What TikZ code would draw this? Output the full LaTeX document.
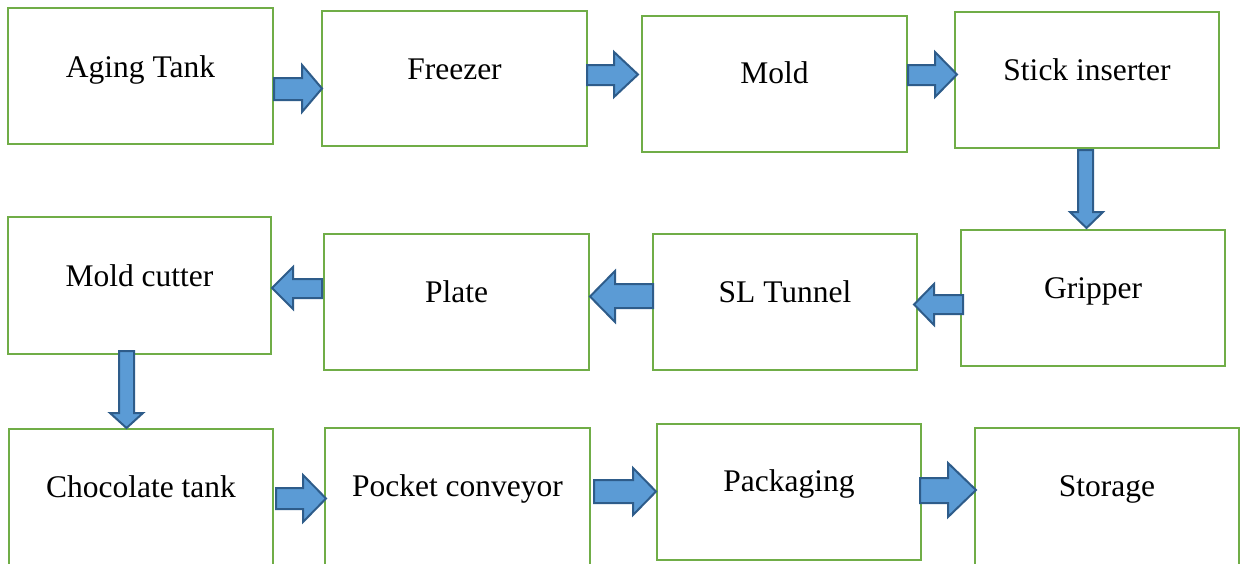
\documentclass[tikz,border=0pt]{standalone}
\usepackage{fontspec}
\setmainfont{Liberation Serif}
\definecolor{boxgreen}{HTML}{70AD47}
\definecolor{arrfill}{HTML}{5B9BD5}
\definecolor{arredge}{HTML}{2E5C8A}
\tikzset{
  box/.style={draw=boxgreen, line width=2.2pt, rectangle, inner sep=0pt, fill=white},
  lbl/.style={anchor=base, inner sep=0pt, font=\fontsize{31.5}{36}\selectfont},
  barrow/.style={draw=arredge, fill=arrfill, line width=2pt, line join=miter}
}
% box: name, x1, y1, x2, y2
\newcommand\boxnode[5]{\node[box, minimum width={#4pt-#2pt}, minimum height={#5pt-#3pt}] (#1) at ({(#2+#4)/2},{(#3+#5)/2}) {};}
% horizontal block arrow: tail, head base, tip, shaft y1, shaft y2, head y1, head y2
\newcommand\harr[7]{\draw[barrow] (#1,#4) -- (#2,#4) -- (#2,#6) -- (#3,{(#6+#7)/2}) -- (#2,#7) -- (#2,#5) -- (#1,#5) -- cycle;}
% vertical block arrow: shaft x1, shaft x2, head x1, head x2, top, head base, tip
\newcommand\varr[7]{\draw[barrow] (#1,#5) -- (#2,#5) -- (#2,#6) -- (#4,#6) -- ({(#3+#4)/2},#7) -- (#3,#6) -- (#1,#6) -- cycle;}
\begin{document}
\begin{tikzpicture}[x=1pt,y=-1pt]
\useasboundingbox (0,0) rectangle (1241,563);
\fill[white] (0,0) rectangle (1241,563);
\clip (0,0) rectangle (1241,563);
% boxes
\boxnode{aging}{8}{8}{273}{144}
\boxnode{freezer}{322}{11}{587}{146}
\boxnode{mold}{642}{16}{907}{152}
\boxnode{stick}{955}{12}{1219}{148}
\boxnode{cutter}{8}{217}{271}{354}
\boxnode{plate}{324}{234}{589}{370}
\boxnode{tunnel}{653}{234}{917}{370}
\boxnode{gripper}{961}{230}{1225}{366}
\boxnode{choc}{9}{429}{273}{600}
\boxnode{pocket}{325}{428}{590}{600}
\boxnode{pack}{657}{424}{921}{560}
\boxnode{storage}{975}{428}{1239}{600}
% labels
\node[lbl] (agingT) at (aging.center |- 0,77) {Aging Tank};
\node[lbl] (freezerT) at (freezer.center |- 0,79) {Freezer};
\node[lbl] (moldT) at (mold.center |- 0,83) {Mold};
\node[lbl] (stickT) at (stick.center |- 0,80) {Stick inserter};
\node[lbl] (cutterT) at (cutter.center |- 0,286) {Mold cutter};
\node[lbl] (plateT) at (plate.center |- 0,302) {Plate};
\node[lbl] (tunnelT) at (tunnel.center |- 0,302) {SL Tunnel};
\node[lbl] (gripperT) at (gripper.center |- 0,298) {Gripper};
\node[lbl] (chocT) at (choc.center |- 0,497) {Chocolate tank};
\node[lbl] (pocketT) at (pocket.center |- 0,496) {Pocket conveyor};
\node[lbl] (packT) at (pack.center |- 0,491) {Packaging};
\node[lbl] (storageT) at (storage.center |- 0,496) {Storage};
% arrows
\harr{274}{302}{322}{78}{100}{65}{112}
\harr{587}{614}{638}{65}{85}{52}{97}
\harr{908}{935}{957}{65}{85}{52}{97}
\varr{1078}{1093}{1070}{1103}{150}{212}{228}
\harr{963}{934}{914}{295}{314}{284}{325}
\harr{653}{615}{590}{284}{308}{271}{322}
\harr{322}{293}{272}{279}{298}{267}{309}
\varr{119}{134}{110}{143}{351}{413}{428}
\harr{276}{303}{326}{488}{509}{475}{522}
\harr{594}{633}{656}{480}{503}{468}{515}
\harr{920}{948}{976}{478}{503}{463}{517}
\end{tikzpicture}
\end{document}
